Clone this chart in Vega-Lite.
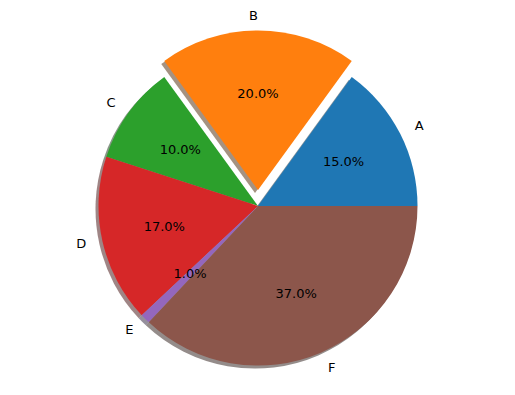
{
  "$schema": "https://vega.github.io/schema/vega-lite/v6.json",
  "autosize": "none",
  "width": 516,
  "height": 380,
  "padding": {"left": 0, "top": 16, "right": 0, "bottom": 0},
  "background": "white",
  "view": {"stroke": null},
  "data": {"values": [
    {"label": "A", "value": 15},
    {"label": "B", "value": 20},
    {"label": "C", "value": 10},
    {"label": "D", "value": 17},
    {"label": "E", "value": 1},
    {"label": "F", "value": 37}
  ]},
  "transform": [
    {"stack": "value", "groupby": [], "as": ["start", "end"], "sort": [{"field": "label", "order": "ascending"}]},
    {"calculate": "(datum.start + datum.end) / 2", "as": "mid"},
    {"calculate": "format(datum.value, '.1f') + '%'", "as": "pct"}
  ],
  "layer": [
    {
      "transform": [{"filter": "datum.label !== 'B'"}],
      "mark": {"type": "arc", "outerRadius": 159.5, "xOffset": -3, "yOffset": 3, "opacity": 0.5},
      "encoding": {
        "theta": {"field": "start", "type": "quantitative", "scale": {"domain": [0, 100], "range": [1.5708, -4.7124]}},
        "theta2": {"field": "end"},
        "color": {"field": "label", "type": "nominal", "legend": null,
          "scale": {"domain": ["A", "B", "C", "D", "E", "F"], "range": ["#092436", "#4c2604", "#0d300d", "#400c0c", "#2c1f39", "#2a1a16"]}}
      }
    },
    {
      "transform": [{"filter": "datum.label === 'B'"}],
      "mark": {"type": "arc", "outerRadius": 159.5, "xOffset": -3, "yOffset": -13, "opacity": 0.5},
      "encoding": {
        "theta": {"field": "start", "type": "quantitative", "scale": {"domain": [0, 100], "range": [1.5708, -4.7124]}},
        "theta2": {"field": "end"},
        "color": {"field": "label", "type": "nominal", "legend": null,
          "scale": {"domain": ["A", "B", "C", "D", "E", "F"], "range": ["#092436", "#4c2604", "#0d300d", "#400c0c", "#2c1f39", "#2a1a16"]}}
      }
    },
    {
      "transform": [{"filter": "datum.label !== 'B'"}],
      "mark": {"type": "arc", "outerRadius": 159.5},
      "encoding": {
        "theta": {"field": "start", "type": "quantitative", "scale": {"domain": [0, 100], "range": [1.5708, -4.7124]}},
        "theta2": {"field": "end"},
        "color": {"field": "label", "type": "nominal", "legend": null,
          "scale": {"domain": ["A", "B", "C", "D", "E", "F"], "range": ["#1f77b4", "#ff7f0e", "#2ca02c", "#d62728", "#9467bd", "#8c564b"]}}
      }
    },
    {
      "transform": [{"filter": "datum.label === 'B'"}],
      "mark": {"type": "arc", "outerRadius": 159.5, "yOffset": -16},
      "encoding": {
        "theta": {"field": "start", "type": "quantitative", "scale": {"domain": [0, 100], "range": [1.5708, -4.7124]}},
        "theta2": {"field": "end"},
        "color": {"field": "label", "type": "nominal", "legend": null,
          "scale": {"domain": ["A", "B", "C", "D", "E", "F"], "range": ["#1f77b4", "#ff7f0e", "#2ca02c", "#d62728", "#9467bd", "#8c564b"]}}
      }
    },
    {
      "transform": [{"filter": "datum.label === 'A' || datum.label === 'F'"}],
      "mark": {"type": "text", "align": "left", "baseline": "middle", "font": "DejaVu Sans", "fontSize": 13, "color": "black"},
      "encoding": {
        "theta": {"field": "mid", "type": "quantitative", "scale": {"domain": [0, 100], "range": [1.5708, -4.7124]}},
        "radius": {"value": 176},
        "text": {"field": "label"}
      }
    },
    {
      "transform": [{"filter": "datum.label === 'C' || datum.label === 'D' || datum.label === 'E'"}],
      "mark": {"type": "text", "align": "right", "baseline": "middle", "font": "DejaVu Sans", "fontSize": 13, "color": "black"},
      "encoding": {
        "theta": {"field": "mid", "type": "quantitative", "scale": {"domain": [0, 100], "range": [1.5708, -4.7124]}},
        "radius": {"value": 176},
        "text": {"field": "label"}
      }
    },
    {
      "transform": [{"filter": "datum.label === 'B'"}],
      "mark": {"type": "text", "align": "right", "baseline": "middle", "font": "DejaVu Sans", "fontSize": 13, "color": "black", "yOffset": -14},
      "encoding": {
        "theta": {"field": "mid", "type": "quantitative", "scale": {"domain": [0, 100], "range": [1.5708, -4.7124]}},
        "radius": {"value": 176},
        "text": {"field": "label"}
      }
    },
    {
      "transform": [{"filter": "datum.label !== 'B'"}],
      "mark": {"type": "text", "align": "center", "baseline": "middle", "font": "DejaVu Sans", "fontSize": 13, "color": "black"},
      "encoding": {
        "theta": {"field": "mid", "type": "quantitative", "scale": {"domain": [0, 100], "range": [1.5708, -4.7124]}},
        "radius": {"value": 96},
        "text": {"field": "pct"}
      }
    },
    {
      "transform": [{"filter": "datum.label === 'B'"}],
      "mark": {"type": "text", "align": "center", "baseline": "middle", "font": "DejaVu Sans", "fontSize": 13, "color": "black", "yOffset": -16},
      "encoding": {
        "theta": {"field": "mid", "type": "quantitative", "scale": {"domain": [0, 100], "range": [1.5708, -4.7124]}},
        "radius": {"value": 96},
        "text": {"field": "pct"}
      }
    }
  ],
  "resolve": {"scale": {"color": "independent"}}
}
